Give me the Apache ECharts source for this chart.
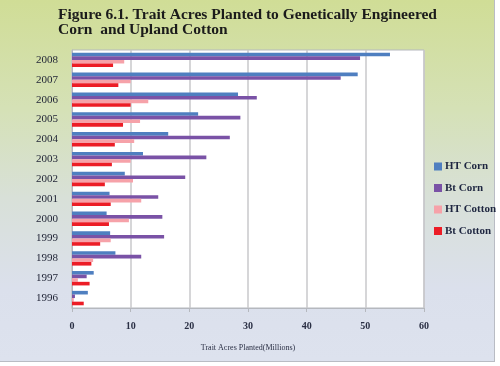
<!DOCTYPE html>
<html>
<head>
<meta charset="utf-8">
<script src="https://cdn.jsdelivr.net/npm/echarts@6/dist/echarts.min.js"></script>
<style>
html,body{margin:0;padding:0;background:#ffffff;}
#bg{position:absolute;left:0;top:0;width:494px;height:361px;border-right:1px solid #b9bcc4;border-bottom:1px solid #b9bcc4;
background:linear-gradient(180deg,#d0dd96 0%,#d5e1b6 30%,#d8e0d8 55%,#dbe0ec 80%,#dde2ee 100%);}
#chart{position:absolute;left:0;top:0;width:500px;height:366px;}
</style>
</head>
<body>
<div id="bg"></div>
<div id="chart"></div>
<script>
var years = ['1996','1997','1998','1999','2000','2001','2002','2003','2004','2005','2006','2007','2008'];
var htCorn    = [2.7, 3.7, 7.4, 6.5, 5.9, 6.4, 9.0, 12.1, 16.4, 21.5, 28.3, 48.7, 54.2];
var btCorn    = [0.5, 2.5, 11.8, 15.7, 15.4, 14.7, 19.3, 22.9, 26.9, 28.7, 31.5, 45.8, 49.1];
var htCotton  = [0.3, 1.0, 3.6, 6.6, 9.7, 11.8, 10.4, 10.0, 10.6, 11.6, 13.0, 10.0, 8.9];
var btCotton  = [2.0, 3.0, 3.3, 4.8, 6.3, 6.6, 5.6, 6.8, 7.3, 8.7, 10.0, 7.9, 7.0];
var xTicks = [0, 10, 20, 30, 40, 50, 60];

var seriesNames = ['HT Corn', 'Bt Corn', 'HT Cotton', 'Bt Cotton'];
var seriesData = [htCorn, btCorn, htCotton, btCotton];
var colors = ['#4f7fc0', '#7a52a6', '#f6a2a9', '#ec1d26'];
var serif = '"Liberation Serif", "DejaVu Serif", serif';

var chart = echarts.init(document.getElementById('chart'), null, {renderer: 'canvas'});
var series = seriesNames.map(function (n, i) {
  return {
    name: n, type: 'bar', data: seriesData[i],
    barWidth: 3.6, barGap: '0%',
    itemStyle: {color: colors[i]}
  };
});
chart.setOption({
  backgroundColor: 'transparent',
  animation: false,
  color: colors,
  title: {
    text: 'Figure 6.1. Trait Acres Planted to Genetically Engineered\nCorn  and Upland Cotton',
    left: 53, top: 3,
    textStyle: {fontFamily: serif, fontWeight: 'bold', fontSize: 15.5, lineHeight: 14.5, color: '#1b1b1b'}
  },
  legend: {
    orient: 'vertical', left: 429, top: 156, itemGap: 10.5,
    itemWidth: 8, itemHeight: 8, icon: 'rect',
    data: seriesNames,
    textStyle: {fontFamily: serif, fontWeight: 'bold', fontSize: 11, color: '#1e2640', padding: [0, 0, 0, -2]}
  },
  grid: {left: 72, right: 76, top: 50, bottom: 58, show: true, backgroundColor: '#ffffff', borderColor: '#b5b8be', borderWidth: 1},
  xAxis: {
    type: 'value', min: xTicks[0], max: xTicks[xTicks.length - 1], interval: 10,
    name: 'Trait Acres Planted(Millions)', nameLocation: 'middle', nameGap: 36,
    nameTextStyle: {fontFamily: serif, fontSize: 8, color: '#2a2f44'},
    axisLine: {show: true, lineStyle: {color: '#b5b8be'}},
    axisTick: {show: true, length: 4, lineStyle: {color: '#b5b8be'}},
    splitLine: {show: true, lineStyle: {color: '#c8c9cb', width: 1.5}},
    axisLabel: {fontFamily: serif, fontSize: 10, fontWeight: 'bold', color: '#2a2f44', margin: 13}
  },
  yAxis: {
    type: 'category', data: years,
    axisLine: {show: true, lineStyle: {color: '#b5b8be'}},
    axisTick: {show: false},
    axisLabel: {fontFamily: serif, fontSize: 11, color: '#1e2234', margin: 14}
  },
  series: series
});
</script>
</body>
</html>
